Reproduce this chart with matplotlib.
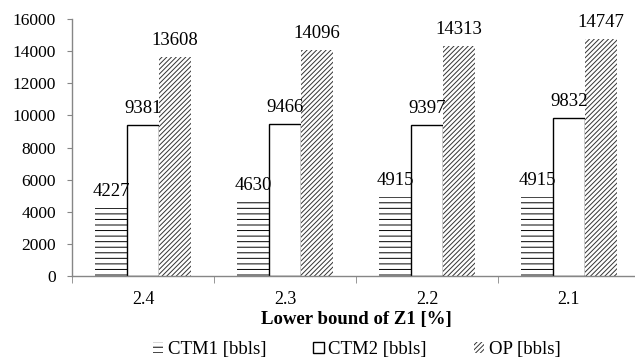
import numpy as np
import matplotlib.pyplot as plt

plt.rcParams['font.family'] = ['Liberation Serif', 'DejaVu Serif']
plt.rcParams['hatch.linewidth'] = 0.7

categories = ['2.4', '2.3', '2.2', '2.1']
ctm1 = [4227, 4630, 4915, 4915]
ctm2 = [9381, 9466, 9397, 9832]
op = [13608, 14096, 14313, 14747]
series_names = ['CTM1 [bbls]', 'CTM2 [bbls]', 'OP [bbls]']
yticks = [0, 2000, 4000, 6000, 8000, 10000, 12000, 14000, 16000]

fig = plt.figure(figsize=(6.35, 3.59), dpi=100)
ax = fig.add_axes([72/635, 1 - 276/359, 568/635, 257/359])

x = np.arange(len(categories))
w = 0.225
axis_col = '#868686'

b1 = ax.bar(x - w, ctm1, w, color='white', edgecolor='black', hatch='---', lw=0)
b2 = ax.bar(x, ctm2, w, color='white', edgecolor='black', lw=1.0)
b3 = ax.bar(x + w, op, w, color='white', edgecolor='#333333', hatch='///////', lw=0)

for bars, vals in [(b1, ctm1), (b2, ctm2), (b3, op)]:
    for b, v in zip(bars, vals):
        ax.text(b.get_x() + b.get_width() / 2, v + 500, str(v),
                ha='center', va='bottom', fontsize=13.5)

ax.set_xlim(-0.5, 3.5)
ax.set_ylim(0, 16000)
ax.set_yticks(yticks)
ax.tick_params(axis='y', labelsize=12.5, direction='out', length=3.5, color=axis_col, pad=8)
ax.set_xticks(x)
ax.set_xticklabels(categories, fontsize=13)
ax.tick_params(axis='x', length=0, pad=11)
ax.set_xticks(np.arange(-0.5, 4.0, 1.0), minor=True)
ax.tick_params(axis='x', which='minor', length=5, color=axis_col, direction='out')

for s in ['top', 'right']:
    ax.spines[s].set_visible(False)
for s in ['left', 'bottom']:
    ax.spines[s].set_color(axis_col)
    ax.spines[s].set_linewidth(1.0)

ax.set_xlabel('Lower bound of Z1 [%]', fontsize=13.5, fontweight='bold', labelpad=2)

leg = fig.legend([b1, b2, b3], series_names, loc='lower center', ncol=3,
                 bbox_to_anchor=(0.562, -0.045), frameon=False, fontsize=13.5,
                 handlelength=0.55, handleheight=0.55, handletextpad=0.25,
                 columnspacing=2.5)

fig.savefig('out.png', dpi=100)
